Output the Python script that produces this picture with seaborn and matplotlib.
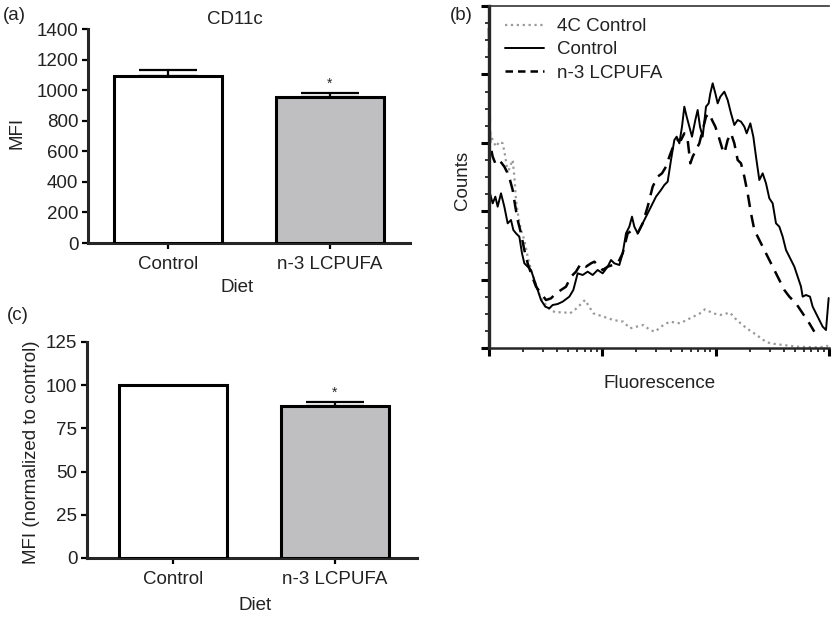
import numpy as np
import matplotlib
matplotlib.use("Agg")
import matplotlib.pyplot as plt
from matplotlib.ticker import FixedLocator
from matplotlib.lines import Line2D
import seaborn as sns

# Bar panels (a) and (c)
diet = ['Control', 'n-3 LCPUFA']
mfi = [1090, 958]
mfi_sem = [42, 21]
mfi_norm = [100, 87.8]
mfi_norm_sem = [0, 2.4]
signif = [False, True]

# Histogram panel (b): channel (0-1020 over 3 log decades) vs counts
ch_4c = [0, 3, 11, 21, 31, 41, 49, 56, 63, 71, 76, 81, 88, 96, 106, 116, 126, 136, 146, 156,
         171, 183, 203, 218, 243, 263, 288, 313, 343, 373, 403, 423, 443, 463, 483, 498, 523,
         543, 573, 603, 633, 648, 673, 693, 723, 743, 773, 803, 823, 843, 883, 923, 983, 1013, 1020]
cnt_4c = [664, 644, 624, 604, 619, 614, 574, 524, 544, 564, 514, 444, 394, 354, 324, 274, 234, 204, 174, 149,
          129, 114, 106, 108, 104, 119, 144, 104, 94, 84, 79, 59, 64, 69, 54, 49, 69,
          79, 74, 89, 104, 116, 104, 99, 106, 84, 59, 39, 24, 14, 9, 4, 2, 4, 14]

ch_ctrl = [0, 3, 11, 19, 26, 36, 46, 56, 66, 73, 81, 91, 99, 106, 116, 126, 136, 146, 156, 169,
           181, 191, 206, 221, 241, 253, 266, 281, 296, 311, 326, 341, 356, 366, 376, 391, 401, 411,
           421, 429, 436, 446, 456, 471, 486, 501, 516, 526, 536, 546, 556, 563, 571, 579, 586, 593,
           601, 609, 619, 626, 633, 641, 651, 659, 664, 671, 679, 686, 694, 706, 716, 726, 736, 746,
           756, 766, 773, 784, 793, 801, 811, 821, 831, 841, 851, 861, 871, 881, 891, 901, 916, 926,
           936, 941, 951, 963, 971, 981, 991, 1001, 1011, 1019]
cnt_ctrl = [990, 464, 434, 454, 424, 464, 424, 374, 384, 354, 344, 334, 284, 254, 244, 234, 204, 174, 144, 124,
            119, 129, 132, 139, 154, 174, 224, 219, 229, 219, 234, 224, 244, 264, 254, 249, 284, 344,
            364, 394, 364, 344, 364, 394, 424, 454, 474, 489, 499, 564, 624, 634, 614, 664, 724, 694,
            664, 634, 684, 714, 664, 634, 724, 734, 764, 794, 764, 734, 754, 769, 744, 704, 669, 684,
            679, 664, 644, 674, 634, 574, 504, 524, 494, 449, 434, 374, 364, 334, 294, 274, 244, 214,
            184, 154, 159, 154, 124, 104, 84, 64, 54, 150]

ch_n3 = [0, 3, 11, 19, 31, 46, 56, 63, 71, 79, 86, 96, 106, 116, 126, 141, 156, 171, 186, 201,
         216, 231, 246, 261, 276, 291, 306, 316, 326, 341, 356, 371, 386, 401, 416, 431, 446, 461,
         476, 491, 506, 519, 531, 541, 556, 566, 576, 586, 596, 604, 611, 621, 631, 641, 651, 661,
         669, 679, 689, 701, 706, 716, 726, 736, 746, 756, 766, 776, 786, 796, 811, 826, 841, 856,
         871, 886, 901, 921, 941, 961, 976]
cnt_n3 = [960, 614, 574, 554, 564, 544, 524, 504, 474, 424, 384, 344, 294, 254, 224, 184, 164, 144, 149, 164,
          174, 184, 214, 229, 254, 244, 254, 259, 249, 234, 244, 249, 254, 284, 344, 354, 344, 374,
          424, 484, 514, 524, 544, 574, 614, 624, 624, 644, 624, 554, 574, 594, 614, 654, 694, 704,
          684, 664, 634, 594, 584, 624, 644, 614, 564, 554, 514, 464, 404, 354, 324, 294, 264, 234,
          204, 174, 154, 134, 104, 74, 49]

W, H = 832, 619
bar_gray = '#bebec2'
fs = 13.5

sns.set_style('ticks')
plt.rcParams['font.family'] = ['Liberation Sans', 'DejaVu Sans']
plt.rcParams['font.size'] = fs
plt.rcParams['axes.linewidth'] = 2.2
plt.rcParams['xtick.major.width'] = 1.6
plt.rcParams['ytick.major.width'] = 1.6
plt.rcParams['xtick.major.size'] = 4.5
plt.rcParams['ytick.major.size'] = 4
plt.rcParams['xtick.color'] = 'black'
plt.rcParams['ytick.color'] = 'black'
plt.rcParams['xtick.labelcolor'] = '#222222'
plt.rcParams['ytick.labelcolor'] = '#222222'

fig = plt.figure(figsize=(W / 100, H / 100), dpi=100)


def ax_from_px(left, top, right, bottom):
    return fig.add_axes([left / W, 1 - bottom / H, (right - left) / W, (bottom - top) / H])


def label_px(x, y, s, **kw):
    fig.text(x / W, 1 - y / H, s, ha='center', va='center', color='#222222', **kw)


def bar_panel(ax, values, sem, ymax, step, xlim):
    sns.barplot(x=diet, y=values, hue=diet, palette=['white', bar_gray], width=0.67,
                edgecolor='black', linewidth=2.2, errorbar=None, legend=False, ax=ax, zorder=3)
    for i, (v, e) in enumerate(zip(values, sem)):
        if e > 0:
            ax.errorbar(i, v, yerr=[[0], [e]], color='black', lw=1.6, capsize=21,
                        capthick=1.6, zorder=2)
        if signif[i]:
            ax.text(i, v + e + ymax * 0.012, '*', ha='center', va='bottom', fontsize=10)
    ax.set_ylim(0, ymax)
    ax.set_yticks(np.arange(0, ymax + 1, step))
    ax.set_xlim(*xlim)
    ax.set_xlabel('')
    ax.set_ylabel('')
    ax.tick_params(axis='y', pad=3)
    ax.tick_params(axis='x', pad=5)
    sns.despine(ax=ax)


# (a)
ax_a = ax_from_px(88, 29, 410, 243)
bar_panel(ax_a, mfi, mfi_sem, 1400, 200, (-0.494, 1.494))
label_px(14, 15, '(a)')
label_px(235, 20, 'CD11c')
label_px(17, 133, 'MFI', rotation=90)
label_px(237, 287, 'Diet')

# (c)
ax_c = ax_from_px(87, 342, 417, 558)
bar_panel(ax_c, mfi_norm, mfi_norm_sem, 125, 25, (-0.53, 1.506))
label_px(18, 315, '(c)')
label_px(32, 452, 'MFI (normalized to control)', rotation=90)
label_px(255, 605, 'Diet')

# (b)
ax_b = ax_from_px(489, 6, 829, 348)
sns.lineplot(x=ch_4c, y=cnt_4c, ax=ax_b, color='#999999', lw=1.6, linestyle=':',
             estimator=None, sort=False)
sns.lineplot(x=ch_ctrl, y=cnt_ctrl, ax=ax_b, color='black', lw=1.4,
             estimator=None, sort=False)
sns.lineplot(x=ch_n3, y=cnt_n3, ax=ax_b, color='black', lw=1.8,
             estimator=None, sort=False)
ax_b.lines[-1].set_dashes((5, 3.2))
for ln in ax_b.lines:
    ln.set_clip_on(False)
ax_b.set_xlim(0, 1020)
ax_b.set_ylim(0, 1026)
major_x = [0, 340, 680, 1020]
minor_x = [d * 340 + 340 * np.log10(k) for d in range(3) for k in range(2, 10)]
ax_b.xaxis.set_major_locator(FixedLocator(major_x))
ax_b.xaxis.set_minor_locator(FixedLocator(minor_x))
ax_b.yaxis.set_major_locator(FixedLocator(np.linspace(0, 1026, 6)))
ax_b.yaxis.set_minor_locator(FixedLocator(np.linspace(0, 1026, 21)))
ax_b.tick_params(labelbottom=False, labelleft=False)
ax_b.tick_params(which='major', length=6, width=2.2)
ax_b.tick_params(which='minor', length=3, width=1.1, color='black')
ax_b.spines['right'].set_visible(False)
ax_b.spines['left'].set_linewidth(2.4)
ax_b.spines['bottom'].set_linewidth(1.8)
ax_b.spines['top'].set_linewidth(1.2)
ax_b.spines['top'].set_color('#333333')
ax_b.set_xlabel('')
ax_b.set_ylabel('')

handles = [Line2D([], [], color='#999999', lw=1.6, linestyle=':'),
           Line2D([], [], color='black', lw=1.4),
           Line2D([], [], color='black', lw=1.8, dashes=(3, 2))]
leg = ax_b.legend(handles, ['4C Control', 'Control', 'n-3 LCPUFA'], frameon=False,
                  loc='upper left', bbox_to_anchor=(505 / W, 1 - 18 / H),
                  bbox_transform=fig.transFigure, borderpad=0, borderaxespad=0,
                  handlelength=2.1, handletextpad=0.65, labelspacing=0.33, fontsize=fs)
for t in leg.get_texts():
    t.set_color('#222222')

label_px(461, 15, '(b)')
label_px(463, 180, 'Counts', rotation=90)
label_px(660, 383, 'Fluorescence')

fig.savefig('out.png', dpi=100)
